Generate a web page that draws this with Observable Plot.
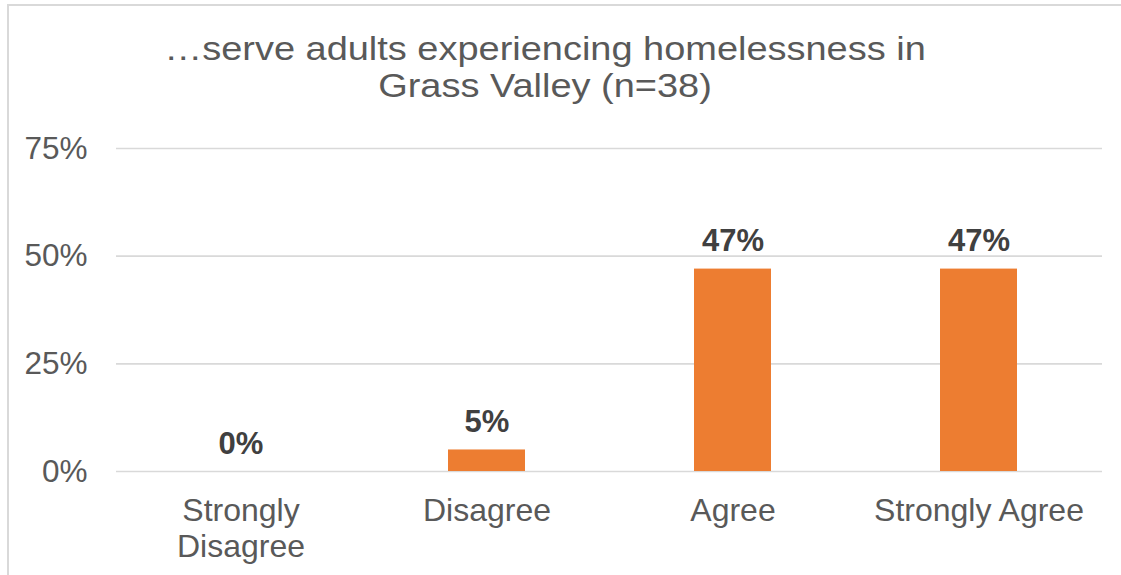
<!DOCTYPE html>
<html>
<head>
<meta charset="utf-8">
<script src="https://cdn.jsdelivr.net/npm/d3@7"></script>
<script src="https://cdn.jsdelivr.net/npm/@observablehq/plot@0.6"></script>
<style>
  html, body { margin: 0; padding: 0; background: #fff; }
  body { width: 1121px; height: 575px; overflow: hidden; position: relative; font-family: "Liberation Sans", Arial, sans-serif; }
  #frame { position: absolute; left: 7px; top: 4px; width: 1140px; height: 600px; border: 2px solid #d9d9d9; box-sizing: border-box; }
  #chart { position: absolute; left: 0; top: 0; }
  .title { position: absolute; left: 0; width: 1090px; height: 37px; text-align: center; font-size: 33px; line-height: 37px; color: #595959; z-index: 2; white-space: nowrap; transform: scaleX(1.15); transform-origin: 545px 50%; }
  #title1 { top: 30px; }
  #title2 { top: 67px; }
</style>
</head>
<body>
<div id="frame"></div>
<div id="chart"></div>
<div class="title" id="title1">…serve adults experiencing homelessness in</div>
<div class="title" id="title2">Grass Valley (n=38)</div>
<script>
// Survey responses (share of 38 respondents)
const categories = ["Strongly Disagree", "Disagree", "Agree", "Strongly Agree"];
const shares = [0.00, 0.05, 0.47, 0.47];
const categoryLabels = ["Strongly\nDisagree", "Disagree", "Agree", "Strongly Agree"];
const yTicks = [0, 0.25, 0.5, 0.75];

const data = categories.map((c, i) => ({category: c, share: shares[i], label: categoryLabels[i]}));
const pct = d3.format(".0%");

const chart = Plot.plot({
  width: 1121,
  height: 575,
  marginLeft: 116,
  marginRight: 19,
  marginTop: 148,
  marginBottom: 104,
  style: {fontFamily: "'Liberation Sans', Arial, sans-serif", background: "transparent", color: "#595959"},
  x: {domain: categories, paddingInner: 0.688, paddingOuter: 0.344, axis: null},
  y: {domain: [0, 0.75], ticks: yTicks, tickFormat: pct},
  marks: [
    Plot.gridY(yTicks, {stroke: "#d9d9d9", strokeOpacity: 1, strokeWidth: 1.6}),
    Plot.axisY(yTicks, {tickSize: 0, tickPadding: 29, tickFormat: pct, fontSize: 31.5, fill: "#595959", label: null}),
    Plot.barY(data, {x: "category", y: "share", fill: "#ED7D31"}),
    Plot.text(data, {x: "category", y: "share", text: d => pct(d.share), dy: -18, lineAnchor: "bottom",
      fontSize: 31, fontWeight: "bold", fill: "#404040"}),
    Plot.text(data, {x: "category", text: "label", frameAnchor: "bottom", lineAnchor: "top", dy: 24,
      lineHeight: 1.13, fontSize: 32, fill: "#595959"})
  ]
});
document.getElementById("chart").appendChild(chart);
</script>
</body>
</html>
